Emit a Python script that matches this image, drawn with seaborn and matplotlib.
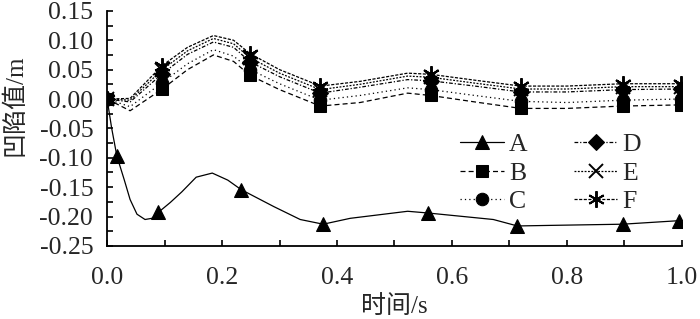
import matplotlib
matplotlib.use("Agg")
import matplotlib.pyplot as plt
import seaborn as sns
from matplotlib.ticker import MultipleLocator

# ---- data ----
t_a = [0, 0.008, 0.017, 0.03, 0.04, 0.052, 0.066, 0.078, 0.089, 0.11, 0.13, 0.155,
       0.183, 0.21, 0.233, 0.29, 0.336, 0.376, 0.423, 0.523, 0.559, 0.672, 0.714,
       0.772, 0.897, 0.995]
dent_a = [0, -0.05, -0.097, -0.138, -0.171, -0.196, -0.205, -0.203, -0.193, -0.176,
          -0.158, -0.133, -0.126, -0.138, -0.154, -0.183, -0.205, -0.213, -0.203,
          -0.191, -0.194, -0.205, -0.216, -0.215, -0.213, -0.207]
marks_a = [2, 8, 14, 17, 20, 22, 24, 25]

t_up = [0, 0.04, 0.096, 0.14, 0.185, 0.22, 0.249, 0.30, 0.371, 0.44, 0.523, 0.563,
        0.64, 0.72, 0.8, 0.897, 0.998]
dent_b = [0, -0.020, 0.017, 0.050, 0.075, 0.064, 0.040, 0.016, -0.012, -0.006, 0.010,
          0.006, -0.005, -0.016, -0.016, -0.012, -0.010]
dent_c = [0, -0.013, 0.028, 0.060, 0.084, 0.073, 0.050, 0.026, -0.002, 0.006, 0.019,
          0.016, 0.006, -0.004, -0.006, -0.002, 0.000]
dent_d = [0, -0.005, 0.043, 0.076, 0.097, 0.088, 0.063, 0.038, 0.010, 0.020, 0.033,
          0.031, 0.022, 0.012, 0.012, 0.016, 0.017]
dent_e = [0, -0.002, 0.050, 0.082, 0.103, 0.094, 0.070, 0.044, 0.016, 0.025, 0.039,
          0.037, 0.027, 0.017, 0.017, 0.021, 0.021]
dent_f = [0, 0.001, 0.057, 0.088, 0.108, 0.100, 0.077, 0.050, 0.022, 0.030, 0.044,
          0.042, 0.032, 0.022, 0.022, 0.026, 0.026]
marks_up = [0, 2, 6, 8, 11, 13, 15, 16]

labels = ["A", "B", "C", "D", "E", "F"]

sns.set_style("ticks")
plt.rcParams["font.family"] = ["Liberation Serif", "Noto Sans CJK SC"]
plt.rcParams["axes.unicode_minus"] = False

fig = plt.figure(figsize=(7, 3.19), dpi=100)
ax = fig.add_axes([0.153, 0.229, 0.821, 0.737])

lw = 0.9
common = dict(ax=ax, color="black", lw=lw, sort=False, estimator=None,
              markeredgecolor="black", markerfacecolor="black")
sns.lineplot(x=t_a, y=dent_a, linestyle="-", marker="^", markersize=10,
             markevery=marks_a, label=labels[0], **common)
sns.lineplot(x=t_up, y=dent_b, linestyle=(0, (4, 2.5)), marker="s", markersize=8.5,
             markevery=marks_up, label=labels[1], **common)
sns.lineplot(x=t_up, y=dent_c, linestyle=(0, (1, 2.5)), marker="o", markersize=9,
             markevery=marks_up, label=labels[2], **common)
sns.lineplot(x=t_up, y=dent_d, linestyle=(0, (3, 1.5, 1, 1.5)), marker="D", markersize=8,
             markevery=marks_up, label=labels[3], **common)
sns.lineplot(x=t_up, y=dent_e, linestyle=(0, (1.5, 1.2)), marker="x", markersize=10,
             markeredgewidth=1.4, markevery=marks_up, label=labels[4], **common)
sns.lineplot(x=t_up, y=dent_f, linestyle=(0, (2.5, 1.2)), marker=(6, 2, 0), markersize=12,
             markeredgewidth=1.4, markevery=marks_up, label=labels[5], **common)

ax.set_xlim(0, 1.0)
ax.set_ylim(-0.25, 0.15)
ax.xaxis.set_major_locator(MultipleLocator(0.2))
ax.xaxis.set_minor_locator(MultipleLocator(0.1))
ax.yaxis.set_major_locator(MultipleLocator(0.05))
ax.yaxis.set_minor_locator(MultipleLocator(0.025))
ax.xaxis.set_major_formatter(plt.FormatStrFormatter("%.1f"))
ax.yaxis.set_major_formatter(plt.FormatStrFormatter("%.2f"))
ax.tick_params(which="both", direction="in", length=4, width=1.2, color="black")
ax.tick_params(axis="y", which="major", pad=10, labelsize=18.5)
ax.tick_params(axis="x", which="major", pad=15, labelsize=18.5)
sns.despine(ax=ax)
for s in ["left", "bottom"]:
    ax.spines[s].set_linewidth(1.3)
    ax.spines[s].set_color("black")

ax.set_xlabel("时间/s", fontsize=18)
ax.set_ylabel("凹陷值/m", fontsize=18)
ax.xaxis.set_label_coords(0.5, -0.21)
ax.yaxis.set_label_coords(-0.14, 0.6)

handles, labs = ax.get_legend_handles_labels()
ax.legend(handles, labs, ncol=2, frameon=False, fontsize=18.5,
          loc="upper left", bbox_to_anchor=(460 / 700, 1 - 133 / 319),
          bbox_transform=fig.transFigure, handlelength=1.7, handletextpad=0.2,
          columnspacing=1.8, labelspacing=0.22, borderpad=0.0, borderaxespad=0.0)

fig.savefig("out.png", dpi=100)
